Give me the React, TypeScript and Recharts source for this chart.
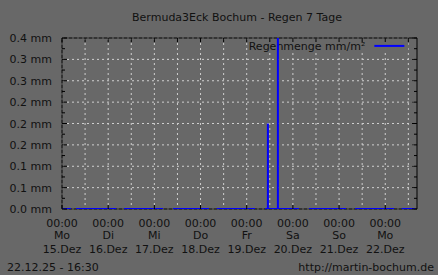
import React from 'react';
import {
  ComposedChart,
  Line,
  XAxis,
  YAxis,
  CartesianGrid,
  ReferenceArea,
} from 'recharts';

// hours since Mo 15.Dez 00:00, chart ends 22.12.25 16:30
const xTicks = [0, 12, 24, 36, 48, 60, 72, 84, 96, 108, 120, 132, 144, 156, 168, 180];
const timeLabels = ['00:00', '00:00', '00:00', '00:00', '00:00', '00:00', '00:00', '00:00'];
const dayLabels = ['Mo', 'Di', 'Mi', 'Do', 'Fr', 'Sa', 'So', 'Mo'];
const dateLabels = ['15.Dez', '16.Dez', '17.Dez', '18.Dez', '19.Dez', '20.Dez', '21.Dez', '22.Dez'];

const yTicks = [0, 0.025, 0.05, 0.075, 0.1, 0.125, 0.15, 0.175, 0.2, 0.225, 0.25, 0.275, 0.3, 0.325, 0.35, 0.375, 0.4];
const yGrid = [0, 0.05, 0.1, 0.15, 0.2, 0.25, 0.3, 0.35, 0.4];
const yLabels = ['0.0 mm', '0.1 mm', '0.1 mm', '0.2 mm', '0.2 mm', '0.2 mm', '0.3 mm', '0.3 mm', '0.4 mm'];

// periods with recorded data (value 0), [start h, end h]
const recorded: [number, number][] = [
  [0.1, 4.7],
  [7.3, 28.2],
  [32.2, 52.5],
  [57.7, 76.4],
  [80.4, 100.3],
  [105.5, 123.2],
  [128.4, 147.6],
  [152.3, 172.6],
  [176.5, 183.4],
];
// rain events
const rainTimes = [107.0, 112.2];
const rainValues = [0.2, 0.4];

const SERIES_NAME = 'Regenmenge mm/m²';

const PLOT_LEFT = 62;
const PLOT_RIGHT = 417;
const PLOT_TOP = 38;
const PLOT_BOTTOM = 209;
const FONT = '"DejaVu Sans", sans-serif';
const TEXT = '#111';
const BG = '#686868';
const BLUE = '#0000ff';

type Pt = { t: number; v: number | null };
const data: Pt[] = [];
recorded.forEach(([a, b]) => {
  data.push({ t: a, v: 0 });
  rainTimes.forEach((rt, i) => {
    if (rt > a && rt < b) {
      data.push({ t: rt, v: 0 });
      data.push({ t: rt, v: rainValues[i] });
      data.push({ t: rt, v: 0 });
    }
  });
  data.push({ t: b, v: 0 });
  data.push({ t: b + 0.05, v: null });
});

function XTick(props: any) {
  const { x, payload } = props;
  const v = payload.value as number;
  const isDay = v % 24 === 0;
  const d = v / 24;
  return (
    <g>
      <line x1={x} x2={x} y1={PLOT_TOP} y2={PLOT_TOP + 4} stroke="#000" />
      {isDay && <line x1={x} x2={x} y1={PLOT_BOTTOM} y2={PLOT_BOTTOM - 4} stroke="#000" />}
      {isDay && (
        <text x={x} textAnchor="middle" fontFamily={FONT} fontSize={11} fill={TEXT}>
          <tspan x={x} y={226.5}>{timeLabels[d]}</tspan>
          <tspan x={x} y={239}>{dayLabels[d]}</tspan>
          <tspan x={x} y={252.5}>{dateLabels[d]}</tspan>
        </text>
      )}
    </g>
  );
}

function YTick(props: any) {
  const { y, payload } = props;
  const v = payload.value as number;
  const k = Math.round(v * 40);
  const major = k % 2 === 0;
  const len = major ? 5 : 3;
  return (
    <g>
      <line x1={PLOT_LEFT} x2={PLOT_LEFT + len} y1={y} y2={y} stroke="#000" />
      <line x1={PLOT_RIGHT} x2={PLOT_RIGHT - len} y1={y} y2={y} stroke="#000" />
      {major && (
        <text x={52} y={y + 4} textAnchor="end" fontFamily={FONT} fontSize={11} fill={TEXT}>
          {yLabels[k / 2]}
        </text>
      )}
    </g>
  );
}

// gnuplot style opaque key, drawn under the data line
function KeyLabel(props: any) {
  const { x, y, width, height } = props.viewBox;
  const right = x + width;
  const cy = y + height / 2;
  return (
    <g>
      <text x={right - 43} y={cy + 4} textAnchor="end" fontFamily={FONT} fontSize={11} fill={TEXT}>
        {SERIES_NAME}
      </text>
      <line x1={right - 34} x2={right - 4} y1={cy} y2={cy} stroke={BLUE} strokeWidth={2} />
    </g>
  );
}

export default function App() {
  return (
    <div style={{ position: 'absolute', left: 0, top: 0, width: 438, height: 275, background: BG, overflow: 'hidden' }}>
      <div style={{ position: 'absolute', left: 237, top: 11, transform: 'translateX(-50%)', whiteSpace: 'nowrap', fontFamily: FONT, fontSize: 11, lineHeight: '14px', color: TEXT }}>
        Bermuda3Eck Bochum - Regen 7 Tage
      </div>
      <ComposedChart width={438} height={275} data={data} margin={{ top: 38, right: 21, bottom: 0, left: 0 }}>
        <CartesianGrid stroke="#cfcfcf" strokeDasharray="2 3" verticalValues={xTicks} horizontalValues={yGrid} />
        <XAxis
          dataKey="t"
          type="number"
          domain={[0, 184.5]}
          ticks={xTicks}
          interval={0}
          allowDataOverflow
          height={66}
          tickLine={false}
          axisLine={false}
          tick={(p: any) => <XTick {...p} />}
        />
        <YAxis
          type="number"
          domain={[0, 0.4]}
          ticks={yTicks}
          interval={0}
          allowDataOverflow
          width={62}
          tickLine={false}
          axisLine={false}
          tick={(p: any) => <YTick {...p} />}
        />
        <ReferenceArea
          x1={99}
          x2={180}
          y1={0.366}
          y2={0.397}
          fill={BG}
          fillOpacity={1}
          stroke="none"
          label={(p: any) => <KeyLabel {...p} />}
        />
        <ReferenceArea x1={0} x2={184.5} y1={0} y2={0.4} fill="none" fillOpacity={0} stroke="#000" strokeWidth={1} />
        <Line
          dataKey="v"
          name={SERIES_NAME}
          type="linear"
          stroke={BLUE}
          strokeWidth={2}
          dot={false}
          activeDot={false}
          connectNulls={false}
          isAnimationActive={false}
        />
      </ComposedChart>
      <div style={{ position: 'absolute', left: 7, top: 261, fontFamily: FONT, fontSize: 11, lineHeight: '14px', color: TEXT }}>
        22.12.25 - 16:30
      </div>
      <div style={{ position: 'absolute', right: 4, top: 261, fontFamily: FONT, fontSize: 11, lineHeight: '14px', color: TEXT }}>
        http://martin-bochum.de
      </div>
    </div>
  );
}
